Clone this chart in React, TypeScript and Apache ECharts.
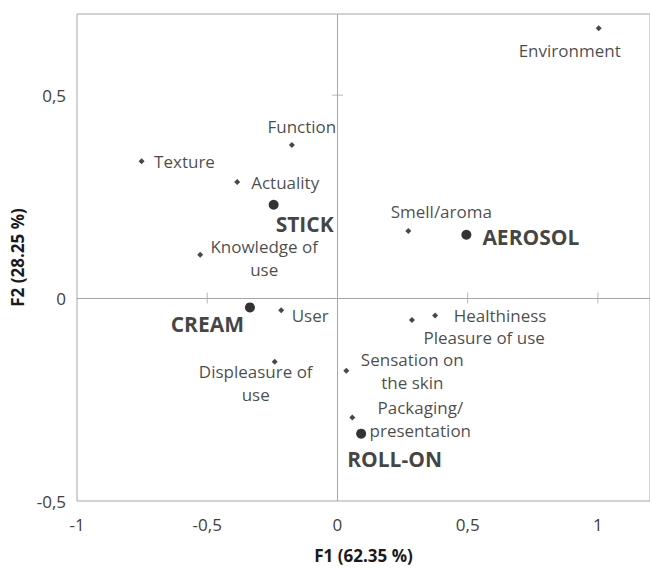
import React, { useEffect, useRef } from "react";
import * as echarts from "echarts";

// ---- data ----
const attributes = [
  "Environment",
  "Function",
  "Texture",
  "Actuality",
  "Knowledge of use",
  "Smell/aroma",
  "User",
  "Displeasure of use",
  "Healthiness",
  "Pleasure of use",
  "Sensation on the skin",
  "Packaging/presentation",
];
const attributeLabels = [
  "Environment",
  "Function",
  "Texture",
  "Actuality",
  "Knowledge of\nuse",
  "Smell/aroma",
  "User",
  "Displeasure of\nuse",
  "Healthiness",
  "Pleasure of use",
  "Sensation on\nthe skin",
  "Packaging/\npresentation",
];
const attributeF1 = [1.003, -0.175, -0.752, -0.385, -0.527, 0.272, -0.216, -0.241, 0.375, 0.286, 0.034, 0.057];
const attributeF2 = [0.665, 0.377, 0.337, 0.286, 0.107, 0.165, -0.03, -0.157, -0.043, -0.054, -0.179, -0.294];

const products = ["STICK", "AEROSOL", "CREAM", "ROLL-ON"];
const productF1 = [-0.245, 0.495, -0.336, 0.091];
const productF2 = [0.23, 0.156, -0.023, -0.334];

const xTickValues = [-0.5, 0.5, 1];
const yTickValues = [0.5];

const xAxisTitle = "F1 (62.35 %)";
const yAxisTitle = "F2 (28.25 %)";

// ---- label placement (layout, not data) ----
type Place = { dx: number; dy: number; align: "left" | "center" | "right" };
const attributePlacement: Record<string, Place> = {
  Environment: { dx: -29, dy: 22, align: "center" },
  Function: { dx: 10, dy: -19, align: "center" },
  Texture: { dx: 12.5, dy: 0, align: "left" },
  Actuality: { dx: 14, dy: 0, align: "left" },
  "Knowledge of use": { dx: 64, dy: 3, align: "center" },
  "Smell/aroma": { dx: 33, dy: -20, align: "center" },
  User: { dx: 10.5, dy: 5.5, align: "left" },
  "Displeasure of use": { dx: -19, dy: 21, align: "center" },
  Healthiness: { dx: 18.5, dy: -0.5, align: "left" },
  "Pleasure of use": { dx: 11.5, dy: 17.5, align: "left" },
  "Sensation on the skin": { dx: 66, dy: 0, align: "center" },
  "Packaging/presentation": { dx: 68, dy: 1.5, align: "center" },
};
const productPlacement: Record<string, Place> = {
  STICK: { dx: 2, dy: 19.5, align: "left" },
  AEROSOL: { dx: 16, dy: 2, align: "left" },
  CREAM: { dx: -6, dy: 16.5, align: "right" },
  "ROLL-ON": { dx: -14, dy: 25.5, align: "left" },
};

const FONT = "'Open Sans', sans-serif";
const TEXT = "#1a1a1a";
const LINE = "#a6a6a6";
const fmt = (v: number) => String(v).replace(".", ",");

export default function App() {
  const ref = useRef<HTMLDivElement>(null);

  useEffect(() => {
    if (!ref.current) return;
    const chart = echarts.init(ref.current, undefined, { renderer: "svg" });

    const option: any = {
      animation: false,
      backgroundColor: "#ffffff",
      grid: {
        left: 77,
        top: 14,
        bottom: 63,
        right: -5,
        show: true,
        borderColor: LINE,
        borderWidth: 1,
        backgroundColor: "transparent",
      },
      xAxis: {
        type: "value",
        min: -1,
        max: 1.2,
        interval: 0.5,
        name: xAxisTitle,
        nameLocation: "middle",
        nameGap: 46,
        nameTextStyle: { fontFamily: FONT, fontSize: 17, fontWeight: "bold", color: TEXT },
        axisLine: { show: false, onZero: false },
        axisTick: { show: false },
        splitLine: { show: false },
        axisLabel: {
          showMaxLabel: false,
          margin: 15,
          fontFamily: FONT,
          fontSize: 17,
          color: "#404040",
          formatter: fmt,
        },
      },
      yAxis: {
        type: "value",
        min: -0.5,
        max: 0.7,
        interval: 0.5,
        name: yAxisTitle,
        nameLocation: "middle",
        nameGap: 50,
        nameTextStyle: { fontFamily: FONT, fontSize: 17, fontWeight: "bold", color: TEXT },
        axisLine: { show: false, onZero: false },
        axisTick: { show: false },
        splitLine: { show: false },
        axisLabel: {
          showMaxLabel: false,
          margin: 11,
          fontFamily: FONT,
          fontSize: 17,
          color: "#404040",
          formatter: fmt,
        },
      },
      series: [
        {
          type: "scatter",
          silent: true,
          z: 1,
          symbol: "rect",
          symbolSize: [1, 11],
          itemStyle: { color: LINE },
          data: xTickValues.map((v) => [v, 0]),
          markLine: {
            silent: true,
            symbol: ["none", "none"],
            label: { show: false },
            lineStyle: { color: LINE, type: "solid", width: 1 },
            data: [{ xAxis: 0 }, { yAxis: 0 }],
          },
        },
        {
          type: "scatter",
          silent: true,
          z: 1,
          symbol: "rect",
          symbolSize: [11, 1],
          itemStyle: { color: LINE },
          data: yTickValues.map((v) => [0, v]),
        },
        {
          type: "scatter",
          z: 3,
          symbol: "diamond",
          symbolSize: 6,
          itemStyle: { color: "#1a1a1a" },
          label: {
            show: true,
            position: "inside",
            fontFamily: FONT,
            fontSize: 17,
            lineHeight: 23,
            color: TEXT,
            verticalAlign: "middle",
          },
          data: attributes.map((name, i) => {
            const p = attributePlacement[name];
            return {
              name,
              value: [attributeF1[i], attributeF2[i]],
              label: {
                formatter: attributeLabels[i],
                offset: [p.dx, p.dy],
                align: p.align,
              },
            };
          }),
        },
        {
          type: "scatter",
          z: 4,
          symbol: "circle",
          symbolSize: 10,
          itemStyle: { color: "#000000" },
          label: {
            show: true,
            position: "inside",
            fontFamily: FONT,
            fontSize: 21,
            lineHeight: 16,
            fontWeight: "bold",
            color: "#111111",
            verticalAlign: "middle",
          },
          data: products.map((name, i) => {
            const p = productPlacement[name];
            return {
              name,
              value: [productF1[i], productF2[i]],
              label: {
                formatter: name,
                offset: [p.dx, p.dy],
                align: p.align,
              },
            };
          }),
        },
      ],
    };

    chart.setOption(option);
    return () => chart.dispose();
  }, []);

  return (
    <div
      ref={ref}
      style={{ position: "absolute", left: 0, top: 0, width: 650, height: 569, background: "#fff" }}
    />
  );
}
